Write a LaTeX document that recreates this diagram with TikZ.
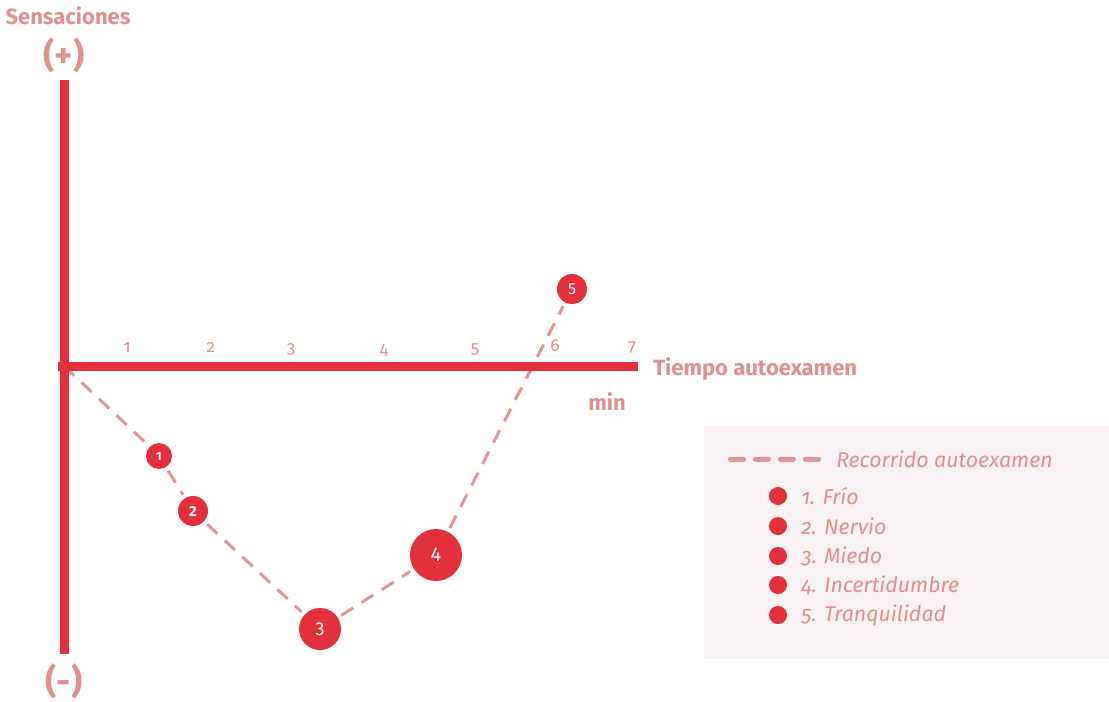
\documentclass[tikz,border=0pt]{standalone}
\usepackage{fontspec}
\setmainfont{Fira Sans}[Numbers=OldStyle]
\definecolor{axred}{HTML}{E3303B}
\definecolor{pinktxt}{HTML}{E0908F}
\definecolor{dashpink}{HTML}{E09597}
\definecolor{legbg}{HTML}{F9F2F4}
\tikzset{
  axis/.style={draw=axred, line width=6.75pt},
  lbl/.style={text=pinktxt, font=\fontsize{16.5}{19}\selectfont\bfseries, inner sep=0pt},
  tick/.style={text=pinktxt, font=\fontsize{13}{14}\selectfont, inner sep=0pt},
  sign/.style={text=pinktxt, font=\fontsize{26}{30}\selectfont\bfseries, inner sep=0pt},
  path/.style={draw=dashpink, line width=2.25pt, dash pattern=on 10.5pt off 7.5pt},
  dot/.style={circle, fill=axred, text=white, inner sep=0pt, minimum size=#1},
  legtxt/.style={text=pinktxt, font=\fontsize{16}{19}\selectfont\itshape, inner sep=0pt, anchor=west},
}
\newcommand{\lin}{\addfontfeatures{Numbers=Lining}}
\begin{document}
\begin{tikzpicture}[x=0.75pt,y=-0.75pt]
\useasboundingbox (0,0) rectangle (1109,702);
% legend background
\fill[legbg] (704,426) rectangle (1109,659);
% nodes of the path
\coordinate (o) at (64,366);
\node[dot=19.5pt, font=\fontsize{9}{10}\selectfont\bfseries\lin] (n1) at (159,456) {1};
\node[dot=22.5pt, font=\fontsize{11}{12}\selectfont\bfseries\lin] (n2) at (193,511) {2};
\node[dot=31.5pt, font=\fontsize{14}{15}\selectfont\lin] (n3) at (320,629) {3};
\node[dot=39pt, font=\fontsize{15}{16}\selectfont\lin] (n4) at (436,555) {4};
\node[dot=22.5pt, font=\fontsize{12}{13}\selectfont\lin] (n5) at (572,289) {5};
\draw[path] (o) -- ([shift={(-2,-2)}]n1.north west);
\draw[path, shorten <=3pt, shorten >=3pt] (n1) -- (n2);
\draw[path, shorten <=3pt, shorten >=3pt] (n2) -- (n3);
\draw[path, shorten <=3pt, shorten >=3pt] (n3) -- (n4);
\draw[path, shorten <=3pt, shorten >=3pt] (n4) -- (n5);
% axes
\coordinate (vt) at (64,80);
\coordinate (vb) at (64,654);
\coordinate (hr) at (638,366);
\draw[axis] (vt) -- (vb);
\draw[axis] ([xshift=-4.5]o) -- (hr);
% axis labels
\node[lbl] (sens) at (68,16) {Sensaciones};
\node[sign] (plus) at (64,55) {(+)};
\node[sign] (minus) at (64,681) {(-)};
\node[lbl, anchor=west] (tiempo) at (653,369) {Tiempo autoexamen};
\node[lbl] (min) at (607,402) {min};
% ticks
\node[tick] (t1) at (127,348) {1};
\node[tick] (t2) at (211,348) {2};
\node[tick] (t3) at (291,350) {3};
\node[tick] (t4) at (384,350) {4};
\node[tick] (t5) at (475,350) {5};
\node[tick] (t6) at (555,346) {6};
\node[tick] (t7) at (632,348) {7};
% legend
\coordinate (la) at (730.5,459);
\coordinate (lb) at (818.5,459);
\draw[draw=dashpink, line width=3.75pt, line cap=round, dash pattern=on 9.75pt off 9pt] (la) -- (lb);
\node[legtxt] (lrec) at (836,459) {Recorrido autoexamen};
\foreach \y/\t [count=\i] in {496/{1. Frío},526/{2. Nervio},556/{3. Miedo},585/{4. Incertidumbre},615/{5. Tranquilidad}}{
  \node[circle, fill=axred, minimum size=13.5pt, inner sep=0pt] (b\i) at (778,\y) {};
  \node[legtxt] (l\i) at (801,\y) {\t};
}
\end{tikzpicture}
\end{document}
